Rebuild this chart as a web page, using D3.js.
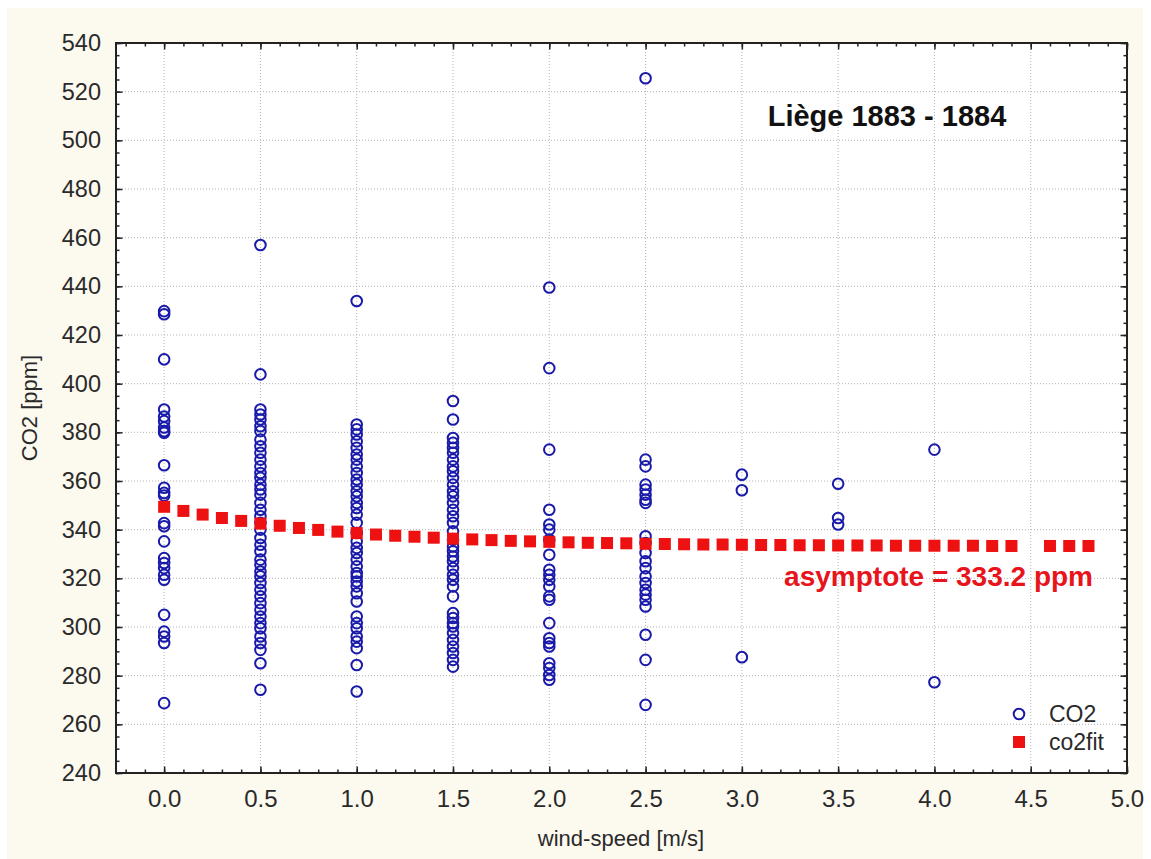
<!DOCTYPE html>
<html>
<head>
<meta charset="utf-8">
<script src="https://cdn.jsdelivr.net/npm/d3@7"></script>
<style>
  body { margin: 0; background: #ffffff; }
  svg text { font-family: "Liberation Sans", Arial, sans-serif; }
</style>
</head>
<body>
<svg id="chart" width="1151" height="859"></svg>
<script>
// observed CO2 by wind-speed class
var windLevels = [0.0, 0.5, 1.0, 1.5, 2.0, 2.5, 3.0, 3.5, 4.0];
var co2At00 = [429.8, 428.5, 410.0, 389.4, 386.5, 384.6, 382.0, 380.5, 379.8, 366.5, 357.2, 355.1, 354.0,
    342.7, 341.4, 335.2, 328.3, 326.3, 324.2, 321.5, 319.4, 305.0, 298.1, 296.1, 293.4, 268.7];
var co2At05 = [457.0, 403.8, 389.4, 387.3, 385.3, 382.5, 380.5, 377.0, 374.3, 371.6, 368.8, 366.0, 363.3,
    361.3, 358.5, 356.5, 354.4, 351.0, 348.2, 345.5, 342.8, 340.0, 336.6, 333.8, 331.1, 327.7, 325.6,
    322.8, 320.8, 318.1, 315.3, 312.6, 309.8, 307.1, 304.3, 301.6, 299.5, 296.1, 293.4, 290.6, 285.1, 274.2];
var co2At10 = [434.0, 383.2, 381.2, 379.1, 376.3, 373.6, 370.9, 368.8, 366.0, 363.3, 360.6, 358.5, 355.8,
    353.7, 351.0, 348.9, 346.2, 342.8, 338.6, 335.2, 332.5, 330.4, 327.7, 324.9, 322.2, 320.8, 318.7,
    316.7, 313.9, 310.5, 304.3, 301.6, 299.5, 296.1, 294.0, 291.3, 284.4, 273.5];
var co2At15 = [392.9, 385.3, 377.7, 375.7, 373.6, 371.6, 368.8, 366.0, 364.0, 361.3, 358.5, 355.8, 353.7,
    351.0, 348.2, 345.5, 342.8, 339.3, 335.9, 333.1, 331.1, 329.0, 327.0, 324.2, 321.5, 319.4, 316.7,
    312.6, 305.7, 303.7, 301.6, 300.2, 297.5, 294.7, 292.0, 289.3, 286.5, 283.7];
var co2At20 = [439.5, 406.4, 372.9, 348.2, 342.1, 340.0, 335.9, 329.7, 323.5, 321.5, 319.4, 316.7, 312.6,
    311.2, 301.6, 295.4, 293.4, 292.0, 285.1, 283.1, 280.3, 278.3];
var co2At25 = [525.5, 368.8, 366.0, 358.5, 356.5, 354.4, 352.3, 351.0, 337.3, 334.5, 330.4, 327.0, 324.2,
    320.8, 318.1, 315.3, 313.3, 311.2, 308.4, 296.8, 286.5, 268.0];
var co2At30 = [362.6, 356.2, 287.6];
var co2At35 = [358.9, 344.8, 342.1];
var co2At40 = [372.9, 277.3];
var co2ByLevel = [co2At00, co2At05, co2At10, co2At15, co2At20, co2At25, co2At30, co2At35, co2At40];

// fitted curve (4.5 has no value)
var fitWind = [0.0, 0.1, 0.2, 0.3, 0.4, 0.5, 0.6, 0.7, 0.8, 0.9, 1.0, 1.1, 1.2, 1.3, 1.4, 1.5, 1.6, 1.7,
    1.8, 1.9, 2.0, 2.1, 2.2, 2.3, 2.4, 2.5, 2.6, 2.7, 2.8, 2.9, 3.0, 3.1, 3.2, 3.3, 3.4, 3.5, 3.6, 3.7,
    3.8, 3.9, 4.0, 4.1, 4.2, 4.3, 4.4, 4.6, 4.7, 4.8];
var fitCo2 = [349.4, 347.7, 346.2, 344.8, 343.6, 342.5, 341.6, 340.7, 339.9, 339.2, 338.6, 338.0, 337.5,
    337.1, 336.7, 336.3, 336.0, 335.7, 335.4, 335.2, 335.0, 334.8, 334.6, 334.5, 334.4, 334.2, 334.1,
    334.0, 333.9, 333.9, 333.8, 333.7, 333.7, 333.6, 333.6, 333.5, 333.5, 333.5, 333.4, 333.4, 333.4,
    333.4, 333.4, 333.3, 333.3, 333.3, 333.3, 333.3];

var xTicks = [0.0, 0.5, 1.0, 1.5, 2.0, 2.5, 3.0, 3.5, 4.0, 4.5, 5.0];
var yTicks = [240, 260, 280, 300, 320, 340, 360, 380, 400, 420, 440, 460, 480, 500, 520, 540];

var plotL = 116, plotR = 1127, plotT = 43, plotB = 773;
var blue = "#1a1aaa", red = "#ee1111";

var svg = d3.select("#chart");
svg.append("rect")
    .attr("x", 7).attr("y", 8)
    .attr("width", 1136).attr("height", 851)
    .attr("fill", "#fcf9ef");
svg.append("rect")
    .attr("x", plotL).attr("y", plotT)
    .attr("width", plotR - plotL).attr("height", plotB - plotT)
    .attr("fill", "#ffffff");

var x = d3.scaleLinear().domain([-0.25, 5]).range([plotL, plotR]);
var y = d3.scaleLinear().domain([240, 540]).range([plotB, plotT]);

var minorX = d3.range(-2, 51).map(function (d) { return d / 10; });
var minorY = d3.range(240, 541, 5);

// grid
svg.append("g").selectAll("line")
    .data(xTicks.filter(function (d) { return d < 5; }))
    .enter().append("line")
        .attr("x1", function (d) { return x(d); })
        .attr("x2", function (d) { return x(d); })
        .attr("y1", plotT).attr("y2", plotB)
        .attr("stroke", "#b4b4b4")
        .attr("stroke-dasharray", "1,2");
svg.append("g").selectAll("line")
    .data(yTicks.filter(function (d) { return d > 240 && d < 540; }))
    .enter().append("line")
        .attr("y1", function (d) { return y(d); })
        .attr("y2", function (d) { return y(d); })
        .attr("x1", plotL).attr("x2", plotR)
        .attr("stroke", "#b4b4b4")
        .attr("stroke-dasharray", "1,2");

// axes, ticks point inward
function tickAxis(axis, at, values, size, fmt) {
    var g = svg.append("g")
        .attr("transform", at)
        .call(axis.tickValues(values).tickSizeInner(-size).tickSizeOuter(0).tickFormat(fmt));
    g.select(".domain").remove();
    g.selectAll("line").attr("stroke", "#222").attr("stroke-width", 1.5);
    return g;
}
var noLabel = function () { return ""; };
tickAxis(d3.axisBottom(x), "translate(0," + plotB + ")", minorX, 3.5, noLabel);
tickAxis(d3.axisTop(x), "translate(0," + plotT + ")", minorX, 3.5, noLabel);
tickAxis(d3.axisLeft(y), "translate(" + plotL + ",0)", minorY, 3.5, noLabel);
tickAxis(d3.axisRight(y), "translate(" + plotR + ",0)", minorY, 3.5, noLabel);
tickAxis(d3.axisTop(x), "translate(0," + plotT + ")", xTicks, 6.5, noLabel);
tickAxis(d3.axisRight(y), "translate(" + plotR + ",0)", yTicks, 6.5, noLabel);

var xAxis = tickAxis(d3.axisBottom(x).tickPadding(17), "translate(0," + plotB + ")", xTicks, 6.5, d3.format(".1f"));
var yAxis = tickAxis(d3.axisLeft(y).tickPadding(15), "translate(" + plotL + ",0)", yTicks, 6.5, d3.format("d"));
xAxis.selectAll("text").attr("font-size", 24).attr("fill", "#2a2a2a").attr("font-family", "Liberation Sans, Arial");
yAxis.selectAll("text").attr("font-size", 23.5).attr("fill", "#2a2a2a").attr("font-family", "Liberation Sans, Arial");

svg.append("rect")
    .attr("x", plotL).attr("y", plotT)
    .attr("width", plotR - plotL).attr("height", plotB - plotT)
    .attr("fill", "none")
    .attr("stroke", "#222")
    .attr("stroke-width", 2);

// observations
var obs = [];
windLevels.forEach(function (w, i) {
    co2ByLevel[i].forEach(function (v) { obs.push({w: w, v: v}); });
});
svg.append("g").selectAll("circle")
    .data(obs)
    .enter().append("circle")
        .attr("cx", function (d) { return x(d.w); })
        .attr("cy", function (d) { return y(d.v); })
        .attr("r", 5.3)
        .attr("fill", "none")
        .attr("stroke", blue)
        .attr("stroke-width", 2);

// fitted curve
svg.append("g").selectAll("rect")
    .data(fitWind)
    .enter().append("rect")
        .attr("x", function (d) { return x(d) - 6; })
        .attr("y", function (d, i) { return y(fitCo2[i]) - 6; })
        .attr("width", 12)
        .attr("height", 12)
        .attr("fill", red);

svg.append("text")
    .attr("x", 1093).attr("y", 586)
    .attr("text-anchor", "end")
    .attr("font-size", 28)
    .attr("font-weight", "bold")
    .attr("fill", "#e8141c")
    .text("asymptote = 333.2 ppm");

svg.append("text")
    .attr("x", 887).attr("y", 126)
    .attr("text-anchor", "middle")
    .attr("font-size", 29)
    .attr("font-weight", "bold")
    .attr("fill", "#111")
    .text("Liège 1883 - 1884");

// legend
svg.append("circle")
    .attr("cx", 1019).attr("cy", 714).attr("r", 5.3)
    .attr("fill", "none").attr("stroke", blue).attr("stroke-width", 2);
svg.append("rect")
    .attr("x", 1013).attr("y", 736).attr("width", 12).attr("height", 12)
    .attr("fill", red);
svg.append("text")
    .attr("x", 1049).attr("y", 722)
    .attr("font-size", 23).attr("fill", "#2a2a2a")
    .text("CO2");
svg.append("text")
    .attr("x", 1049).attr("y", 750)
    .attr("font-size", 23).attr("fill", "#2a2a2a")
    .text("co2fit");

// axis titles
svg.append("text")
    .attr("x", 621).attr("y", 846)
    .attr("text-anchor", "middle")
    .attr("font-size", 22).attr("fill", "#2a2a2a")
    .text("wind-speed [m/s]");
svg.append("text")
    .attr("transform", "translate(37,408) rotate(-90)")
    .attr("text-anchor", "middle")
    .attr("font-size", 22).attr("fill", "#2a2a2a")
    .text("CO2 [ppm]");
</script>
</body>
</html>
